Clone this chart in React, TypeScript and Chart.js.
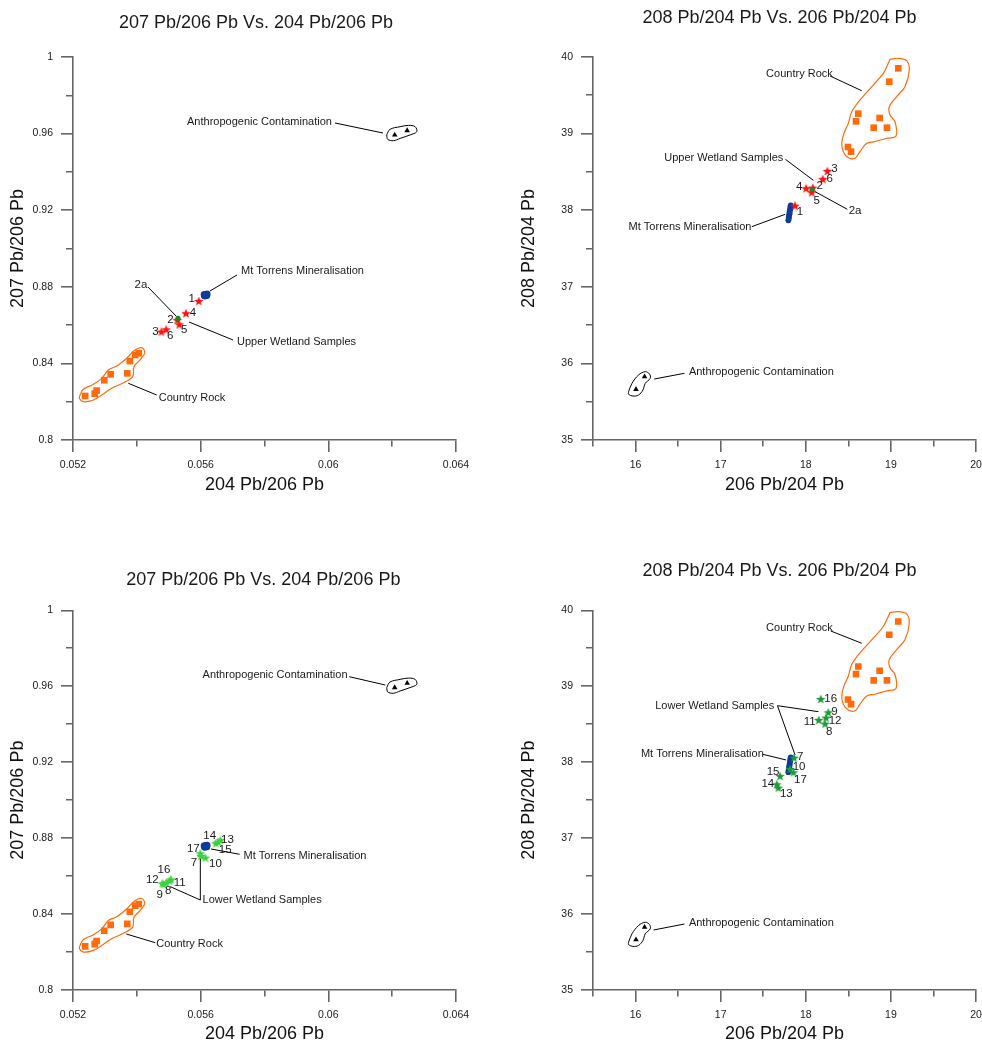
import React, { useEffect, useRef } from 'react';
import { Chart, registerables } from 'chart.js';

Chart.register(...registerables);

const FONT = '"Liberation Sans", Arial, Helvetica, sans-serif';
const AXIS = '#666666';
const INK = '#1a1a1a';
const ORANGE = '#ff6a0d';
const BLUE = '#0b3b9c';
const RED = '#ff1010';
const GREEN_DOT = '#1f8a1f';
const GREEN_LIGHT = '#3fd03f';
const GREEN_DARK = '#1f9a3a';

// ---------- titles ----------
const titleLeft = '207 Pb/206 Pb Vs. 204 Pb/206 Pb';
const titleRight = '208 Pb/204 Pb Vs. 206 Pb/204 Pb';
const xTitleLeft = '204 Pb/206 Pb';
const yTitleLeft = '207 Pb/206 Pb';
const xTitleRight = '206 Pb/204 Pb';
const yTitleRight = '208 Pb/204 Pb';

// ---------- Country rock ----------
const cr204_206 = [0.05238, 0.05268, 0.05274, 0.05298, 0.05318, 0.0537, 0.05378, 0.05395, 0.05406];
const cr207_206 = [0.823, 0.8242, 0.8258, 0.8312, 0.8343, 0.8348, 0.8412, 0.8444, 0.8453];
const cr206_204 = [19.087, 18.981, 18.617, 18.59, 18.868, 18.798, 18.954, 18.496, 18.532];
const cr208_204 = [39.852, 39.678, 39.26, 39.16, 39.204, 39.077, 39.077, 38.825, 38.764];

// envelope outlines
const crEnv204_206 = [0.05222, 0.05232, 0.05264, 0.0529, 0.05311, 0.05337, 0.05368, 0.05394, 0.05415, 0.05425, 0.0541, 0.05391, 0.05387, 0.05358, 0.05321, 0.0529, 0.05264, 0.05232, 0.0522];
const crEnv207_206 = [0.8235, 0.8265, 0.8291, 0.8322, 0.8366, 0.8386, 0.8427, 0.847, 0.8482, 0.8456, 0.8418, 0.8383, 0.8331, 0.8299, 0.827, 0.8235, 0.8209, 0.82, 0.8218];
const crEnv206_204 = [18.989, 19.087, 19.185, 19.216, 19.165, 19.068, 18.981, 18.989, 19.048, 19.06, 18.951, 18.813, 18.716, 18.637, 18.579, 18.5, 18.441, 18.423, 18.449, 18.5, 18.54, 18.637, 18.793, 18.911, 18.969];
const crEnv208_204 = [39.97, 39.983, 39.952, 39.83, 39.612, 39.482, 39.351, 39.243, 39.155, 38.969, 38.939, 38.895, 38.873, 38.764, 38.678, 38.686, 38.764, 38.873, 39.004, 39.134, 39.286, 39.439, 39.634, 39.787, 39.917];

// ---------- Anthropogenic contamination ----------
const an204_206 = [0.06208, 0.06247];
const an207_206 = [0.9593, 0.9616];
const an206_204 = [16.005, 16.106];
const an208_204 = [35.662, 35.826];
const anEnv204_206 = [0.06183, 0.06193, 0.06225, 0.06251, 0.06272, 0.06277, 0.06256, 0.06225, 0.06204, 0.06186];
const anEnv207_206 = [0.9593, 0.9622, 0.9636, 0.9643, 0.9636, 0.961, 0.9593, 0.9575, 0.9563, 0.957];
const anEnv206_204 = [15.918, 15.958, 16.035, 16.114, 16.164, 16.173, 16.114, 16.087, 16.035, 15.969, 15.918];
const anEnv208_204 = [35.631, 35.74, 35.849, 35.892, 35.862, 35.806, 35.74, 35.653, 35.587, 35.574, 35.597];

// ---------- Mt Torrens mineralisation ----------
const mt204_206 = [0.0562, 0.05618, 0.05616, 0.05614, 0.05612, 0.05619, 0.05615, 0.05613, 0.05617, 0.05611];
const mt207_206 = [0.8762, 0.876, 0.8759, 0.8757, 0.8755, 0.8754, 0.8756, 0.8752, 0.8758, 0.876];
const mt206_204 = [17.823, 17.818, 17.817, 17.812, 17.81, 17.809, 17.804, 17.801, 17.799, 17.795];
const mt208_204 = [38.062, 38.041, 38.012, 37.998, 37.972, 37.951, 37.938, 37.907, 37.889, 37.868];

// ---------- Upper wetland samples ----------
const upIds = ['1', '2', '3', '4', '5', '6'];
const up204_206 = [0.05594, 0.05527, 0.05477, 0.05554, 0.05533, 0.05492];
const up207_206 = [0.8726, 0.8627, 0.8566, 0.8662, 0.8604, 0.8578];
const up206_204 = [17.874, 18.082, 18.254, 18.004, 18.07, 18.199];
const up208_204 = [38.059, 38.294, 38.512, 38.286, 38.234, 38.407];
const s2aId = ['2a'];
const s2a204_206 = [0.05529];
const s2a207_206 = [0.8635];
const s2a206_204 = [18.074];
const s2a208_204 = [38.268];

// ---------- Lower wetland samples ----------
const lowIds = ['7', '8', '9', '10', '11', '12', '13', '14', '15', '16', '17'];
const low204_206 = [0.05601, 0.05492, 0.05484, 0.05615, 0.05503, 0.0548, 0.05662, 0.05647, 0.05655, 0.05507, 0.05599];
const low207_206 = [0.8706, 0.8565, 0.8557, 0.8697, 0.8576, 0.8562, 0.879, 0.8773, 0.878, 0.8583, 0.872];
const low206_204 = [17.863, 18.227, 18.265, 17.816, 18.153, 18.238, 17.678, 17.66, 17.698, 18.176, 17.855];
const low208_204 = [38.059, 38.507, 38.657, 37.911, 38.556, 38.586, 37.664, 37.709, 37.818, 38.832, 37.867];

// ---------- annotation layout (data-space anchors, pixel nudges) ----------
const groupsP1 = [
  { text: 'Anthropogenic Contamination', x: 0.055572, y: 0.96621 },
  { text: 'Mt Torrens Mineralisation', x: 0.057264, y: 0.88825 },
  { text: 'Upper Wetland Samples', x: 0.057138, y: 0.85118 },
  { text: 'Country Rock', x: 0.054685, y: 0.82178 },
];
const leadersP1 = [
  [[0.060209, 0.96554], [0.061713, 0.96031]],
  [[0.056292, 0.87781], [0.057138, 0.88616]],
  [[0.055634, 0.86162], [0.057013, 0.85222]],
  [[0.053733, 0.82961], [0.054622, 0.8235]],
  [[0.05435, 0.8799], [0.055249, 0.86439]],
];
const groupsP2 = [
  { text: 'Country Rock', x: 17.534, y: 39.774 },
  { text: 'Upper Wetland Samples', x: 16.337, y: 38.678 },
  { text: 'Mt Torrens Mineralisation', x: 15.918, y: 37.785 },
  { text: 'Anthropogenic Contamination', x: 16.627, y: 35.884 },
];
const leadersP2 = [
  [[18.285, 39.752], [18.657, 39.56]],
  [[17.761, 38.664], [18.089, 38.39]],
  [[17.366, 37.785], [17.757, 37.946]],
  [[16.219, 35.796], [16.575, 35.871]],
  [[18.109, 38.242], [18.488, 38.012]],
];
const groupsP3 = [
  { text: 'Anthropogenic Contamination', x: 0.056061, y: 0.96592 },
  { text: 'Mt Torrens Mineralisation', x: 0.057345, y: 0.87074 },
  { text: 'Lower Wetland Samples', x: 0.056061, y: 0.84741 },
  { text: 'Country Rock', x: 0.05461, y: 0.82423 },
];
const leadersP3 = [
  [[0.060657, 0.96503], [0.061785, 0.96065]],
  [[0.056324, 0.87427], [0.05722, 0.87148]],
  [[0.055989, 0.84741], [0.055989, 0.86937]],
  [[0.055989, 0.84741], [0.055049, 0.85441]],
  [[0.05367, 0.8295], [0.054579, 0.82491]],
];
const groupsP4 = [
  { text: 'Country Rock', x: 17.534, y: 39.764 },
  { text: 'Lower Wetland Samples', x: 16.231, y: 38.744 },
  { text: 'Mt Torrens Mineralisation', x: 16.063, y: 38.104 },
  { text: 'Anthropogenic Contamination', x: 16.627, y: 35.878 },
];
const leadersP4 = [
  [[18.293, 39.728], [18.657, 39.566]],
  [[17.667, 38.744], [18.148, 38.665]],
  [[17.667, 38.744], [17.874, 38.095]],
  [[17.495, 38.104], [17.769, 38.029]],
  [[16.211, 35.79], [16.575, 35.869]],
];

const nudgeP1: Record<string, [number, number]> = { '1': [-7, -2], '2': [-7, 0], '3': [-6, 0], '4': [7, 0], '5': [5, 5], '6': [4, 7], '2a': [-37, -34] };
const nudgeP2: Record<string, [number, number]> = { '1': [5, 6], '2': [7, -2], '3': [7, -2], '4': [-7, -1], '5': [5, 9], '6': [7, 0], '2a': [43, 21] };
const nudgeP3: Record<string, [number, number]> = { '7': [-7, 7], '8': [2, 8], '9': [-4, 11], '10': [10, 6], '11': [10, 2], '12': [-10, -3], '13': [7, 0], '14': [-6, -7], '15': [7, 8], '16': [-7, -9], '17': [-7, -4] };
const nudgeP4: Record<string, [number, number]> = { '7': [6, -1], '8': [4, 8], '9': [6, 0], '10': [9, -2], '11': [-9, 2], '12': [9, 3], '13': [8, 6], '14': [-9, 0], '15': [-7, -4], '16': [10, 0], '17': [7, 8] };

// ---------- helpers ----------
const pts = (xs: number[], ys: number[]) => xs.map((x, i) => ({ x, y: ys[i] }));
const closed = (xs: number[], ys: number[]) => {
  const p = pts(xs, ys);
  return [...p, p[0]];
};
const isMult = (v: number, m: number) => Math.abs(v / m - Math.round(v / m)) < 1e-6;

function makeStar(color: string, R = 5, r = 2.1) {
  const size = 12;
  const c = document.createElement('canvas');
  c.width = size;
  c.height = size;
  const g = c.getContext('2d')!;
  g.fillStyle = color;
  g.beginPath();
  for (let i = 0; i < 10; i++) {
    const a = -Math.PI / 2 + (i * Math.PI) / 5;
    const rad = i % 2 === 0 ? R : r;
    const px = size / 2 + Math.cos(a) * rad;
    const py = size / 2 + 0.5 + Math.sin(a) * rad;
    if (i === 0) g.moveTo(px, py);
    else g.lineTo(px, py);
  }
  g.closePath();
  g.fill();
  return c;
}

function lineDs(data: any[], color: string, width: number, tension: number, order: number) {
  return {
    data,
    showLine: true,
    borderColor: color,
    backgroundColor: color,
    borderWidth: width,
    pointRadius: 0,
    pointHoverRadius: 0,
    tension,
    fill: false,
    order,
  };
}
function markerDs(data: any[], style: any, radius: number, color: string, order: number) {
  return {
    data,
    showLine: false,
    pointStyle: style,
    pointRadius: radius,
    pointHoverRadius: radius,
    backgroundColor: color,
    borderColor: color,
    borderWidth: 0,
    order,
  };
}

function makeScale(o: {
  axis: 'x' | 'y';
  min: number;
  max: number;
  minor: number;
  major: number;
  title: string;
  titlePad: any;
  size: number;
}) {
  const minorDash = o.axis === 'y' ? [0, 5, 6, 100] : [6, 100];
  return {
    type: 'linear',
    position: o.axis === 'y' ? 'left' : 'bottom',
    min: o.min,
    max: o.max,
    afterFit: (s: any) => {
      if (o.axis === 'y') s.width = o.size;
      else s.height = o.size;
      s.paddingLeft = 0;
      s.paddingRight = 0;
      s.paddingTop = 0;
      s.paddingBottom = 0;
    },
    border: { display: true, color: AXIS, width: 1.6 },
    grid: {
      display: true,
      drawOnChartArea: false,
      drawTicks: true,
      tickLength: 12,
      color: AXIS,
      lineWidth: 1.6,
      tickBorderDash: (c: any) => (c.tick && !isMult(c.tick.value, o.major) ? minorDash : []),
    },
    ticks: {
      stepSize: o.minor,
      autoSkip: false,
      maxRotation: 0,
      minRotation: 0,
      padding: o.axis === 'y' ? 8 : 6.7,
      color: INK,
      font: { family: FONT, size: 10.5 },
      callback: (v: any) => (isMult(Number(v), o.major) ? String(Number(Number(v).toFixed(4))) : ''),
    },
    title: {
      display: true,
      text: o.title,
      color: '#111',
      font: { family: FONT, size: 18 },
      padding: o.titlePad,
    },
  };
}

function textPlugin(cfg: any) {
  return {
    id: 'panelText',
    afterDatasetsDraw(chart: any) {
      const ctx = chart.ctx;
      const sx = chart.scales.x;
      const sy = chart.scales.y;
      ctx.save();
      ctx.fillStyle = INK;
      ctx.font = `18px ${FONT}`;
      ctx.textAlign = 'center';
      ctx.textBaseline = 'alphabetic';
      ctx.fillText(cfg.title, cfg.titleX, cfg.titleY);
      ctx.font = `11px ${FONT}`;
      ctx.textAlign = 'left';
      ctx.textBaseline = 'middle';
      for (const g of cfg.groups) ctx.fillText(g.text, sx.getPixelForValue(g.x), sy.getPixelForValue(g.y));
      ctx.font = `11.5px ${FONT}`;
      ctx.textAlign = 'center';
      for (const n of cfg.nums) ctx.fillText(n.text, sx.getPixelForValue(n.x) + n.dx, sy.getPixelForValue(n.y) + n.dy);
      ctx.restore();
    },
  };
}

function numLabels(ids: string[], xs: number[], ys: number[], nudge: Record<string, [number, number]>) {
  return ids.map((id, i) => ({ text: id, x: xs[i], y: ys[i], dx: nudge[id][0], dy: nudge[id][1] }));
}

type PanelDef = {
  key: string;
  left: number;
  top: number;
  width: number;
  height: number;
  build: () => any;
};

function leftPanelConfig(lower: boolean) {
  const star = makeStar(lower ? GREEN_LIGHT : RED);
  const leaders = lower ? leadersP3 : leadersP1;
  const datasets: any[] = [];
  if (lower) {
    datasets.push(markerDs(pts(low204_206, low207_206), star, 5, GREEN_LIGHT, 0));
  } else {
    datasets.push(markerDs(pts(s2a204_206, s2a207_206), 'circle', 2.6, GREEN_DOT, 0));
    datasets.push(markerDs(pts(up204_206, up207_206), star, 5, RED, 1));
  }
  datasets.push(markerDs(pts(mt204_206, mt207_206), 'circle', 3.5, BLUE, 2));
  datasets.push(markerDs(pts(cr204_206, cr207_206), 'rect', 4.7, ORANGE, 3));
  datasets.push(markerDs(pts(an204_206, an207_206), 'triangle', 3.2, '#000', 3));
  datasets.push(lineDs(closed(crEnv204_206, crEnv207_206), ORANGE, 1.2, 0.35, 5));
  datasets.push(lineDs(closed(anEnv204_206, anEnv207_206), '#000', 1, 0.35, 5));
  leaders.forEach((l) => datasets.push(lineDs(l.map(([x, y]) => ({ x, y })), '#000', 1, 0, 6)));

  const nums = lower
    ? numLabels(lowIds, low204_206, low207_206, nudgeP3)
    : [...numLabels(upIds, up204_206, up207_206, nudgeP1), ...numLabels(s2aId, s2a204_206, s2a207_206, nudgeP1)];

  const plugin = textPlugin({
    title: titleLeft,
    titleX: lower ? 263.3 : 256,
    titleY: lower ? 65 : 28.3,
    groups: lower ? groupsP3 : groupsP1,
    nums,
  });

  return {
    type: 'scatter',
    data: { datasets },
    options: {
      responsive: false,
      maintainAspectRatio: false,
      animation: false,
      devicePixelRatio: 1,
      events: [],
      layout: { padding: { left: 0, top: lower ? 90.3 : 57, right: 35, bottom: 0 } },
      plugins: { legend: { display: false }, title: { display: false }, tooltip: { enabled: false } },
      scales: {
        x: makeScale({ axis: 'x', min: 0.052, max: 0.064, minor: 0.002, major: 0.004, title: xTitleLeft, titlePad: { top: 0, bottom: lower ? 1.8 : 24.2 }, size: lower ? 57 : 80 }),
        y: makeScale({ axis: 'y', min: 0.8, max: 1, minor: 0.02, major: 0.04, title: yTitleLeft, titlePad: { top: 7.5, bottom: 0 }, size: 73 }),
      },
    },
    plugins: [plugin],
  };
}

function rightPanelConfig(lower: boolean) {
  const star = makeStar(lower ? GREEN_DARK : RED);
  const leaders = lower ? leadersP4 : leadersP2;
  const datasets: any[] = [];
  if (lower) {
    datasets.push(markerDs(pts(low206_204, low208_204), star, 5, GREEN_DARK, 0));
  } else {
    datasets.push(markerDs(pts(s2a206_204, s2a208_204), 'circle', 2.6, GREEN_DOT, 0));
    datasets.push(markerDs(pts(up206_204, up208_204), star, 5, RED, 1));
  }
  datasets.push(markerDs(pts(mt206_204, mt208_204), 'circle', 2.9, BLUE, 2));
  datasets.push(markerDs(pts(cr206_204, cr208_204), 'rect', 4.7, ORANGE, 3));
  datasets.push(markerDs(pts(an206_204, an208_204), 'triangle', 3.2, '#000', 3));
  datasets.push(lineDs(closed(crEnv206_204, crEnv208_204), ORANGE, 1.2, 0.35, 5));
  datasets.push(lineDs(closed(anEnv206_204, anEnv208_204), '#000', 1, 0.35, 5));
  leaders.forEach((l) => datasets.push(lineDs(l.map(([x, y]) => ({ x, y })), '#000', 1, 0, 6)));

  const nums = lower
    ? numLabels(lowIds, low206_204, low208_204, nudgeP4)
    : [...numLabels(upIds, up206_204, up208_204, nudgeP2), ...numLabels(s2aId, s2a206_204, s2a208_204, nudgeP2)];

  const plugin = textPlugin({
    title: titleRight,
    titleX: 288.5,
    titleY: lower ? 56 : 22.7,
    groups: lower ? groupsP4 : groupsP2,
    nums,
  });

  return {
    type: 'scatter',
    data: { datasets },
    options: {
      responsive: false,
      maintainAspectRatio: false,
      animation: false,
      devicePixelRatio: 1,
      events: [],
      layout: { padding: { left: 0, top: lower ? 90.3 : 57, right: 6, bottom: 0 } },
      plugins: { legend: { display: false }, title: { display: false }, tooltip: { enabled: false } },
      scales: {
        x: makeScale({ axis: 'x', min: 15.5, max: 20, minor: 0.5, major: 1, title: xTitleRight, titlePad: { top: 0, bottom: lower ? 1.8 : 24.2 }, size: lower ? 57 : 80 }),
        y: makeScale({ axis: 'y', min: 35, max: 40, minor: 0.5, major: 1, title: yTitleRight, titlePad: { top: 27.4, bottom: 0 }, size: 102 }),
      },
    },
    plugins: [plugin],
  };
}

const panels: PanelDef[] = [
  { key: 'p1', left: 0, top: 0, width: 491, height: 520, build: () => leftPanelConfig(false) },
  { key: 'p2', left: 491, top: 0, width: 491, height: 520, build: () => rightPanelConfig(false) },
  { key: 'p3', left: 0, top: 520, width: 491, height: 527, build: () => leftPanelConfig(true) },
  { key: 'p4', left: 491, top: 520, width: 491, height: 527, build: () => rightPanelConfig(true) },
];

function PanelChart({ panel }: { panel: PanelDef }) {
  const ref = useRef<HTMLCanvasElement>(null);
  useEffect(() => {
    if (!ref.current) return;
    const chart = new Chart(ref.current, panel.build() as any);
    return () => chart.destroy();
  }, [panel]);
  return (
    <canvas
      ref={ref}
      width={panel.width}
      height={panel.height}
      style={{ position: 'absolute', left: panel.left, top: panel.top, width: panel.width, height: panel.height }}
    />
  );
}

export default function App() {
  return (
    <div style={{ position: 'absolute', left: 0, top: 0, width: 982, height: 1047, overflow: 'hidden', background: '#fff' }}>
      {panels.map((p) => (
        <PanelChart key={p.key} panel={p} />
      ))}
    </div>
  );
}
